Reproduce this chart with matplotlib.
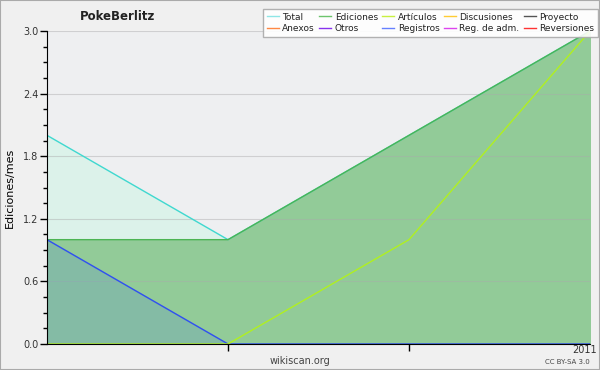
import matplotlib
matplotlib.use("Agg")
import matplotlib.pyplot as plt
import matplotlib.transforms as mtrans
from matplotlib.lines import Line2D
from matplotlib.ticker import MultipleLocator

months = [0, 1, 2, 3]
x_tick_labels = ["", "", "", "2011"]
total = [2, 1, 2, 3]
ediciones = [1, 1, 2, 3]
articulos = [0, 0, 1, 3]
registros = [1, 0, 0, 0]

legend_names = ["Total", "Ediciones", "Artículos", "Discusiones", "Proyecto",
                "Anexos", "Otros", "Registros", "Reg. de adm.", "Reversiones"]
legend_colors = ["#8ee6e6", "#6cc46c", "#c8f040", "#ffcc33", "#555555",
                 "#ff8844", "#8833ee", "#6680ff", "#dd44ee", "#ff3333"]

fig = plt.figure(figsize=(6, 3.7), dpi=100, facecolor="#f0f0f0")
ax = fig.add_axes([47/600, 26/370, 543/600, 313/370])
ax.set_facecolor("#eeeff1")

ax.fill_between(months, total, 0, color="#dcf2ea", zorder=1)
ax.plot(months, total, color="#40d8d0", lw=1, zorder=5)
ax.fill_between(months, ediciones, 0, color="#92cb98", zorder=2)
ax.plot(months, ediciones, color="#4cb454", lw=1, zorder=5)
ax.fill_between(months, registros, 0, color="#6a9fc0", alpha=0.35, zorder=3)
ax.plot(months, registros, color="#3050f0", lw=1, zorder=6)
ax.plot(months, articulos, color="#b0f020", lw=1, zorder=6)

ax.set_xlim(0, 3)
ax.set_ylim(0, 3.0)
ax.yaxis.set_major_locator(MultipleLocator(0.6))
ax.yaxis.set_minor_locator(MultipleLocator(0.15))
ax.yaxis.set_major_formatter(matplotlib.ticker.FormatStrFormatter("%.1f"))
ax.set_xticks(months)
ax.set_xticklabels(x_tick_labels)
ax.grid(axis="y", which="major", color="#aaaaaa", alpha=0.45, lw=0.8, zorder=4)
ax.set_axisbelow(False)
for s in ["top", "right"]:
    ax.spines[s].set_visible(False)
ax.spines["left"].set_zorder(7)
ax.spines["bottom"].set_zorder(7)
ax.tick_params(axis="both", which="major", length=5, width=1, labelsize=7,
               color="black", labelcolor="#333333", pad=1)
ax.tick_params(axis="y", which="minor", length=3, width=1)
ax.tick_params(axis="x", pad=-4)
xt = ax.xaxis.get_major_ticks()
xt[0].tick1line.set_visible(False)
xt[3].tick1line.set_visible(False)
lab = xt[3].label1
lab.set_horizontalalignment("right")
lab.set_transform(lab.get_transform() +
                  mtrans.ScaledTranslation(7/100, 0, fig.dpi_scale_trans))
ax.set_ylabel("Ediciones/mes", fontsize=8, labelpad=6)

fig.text(118/600, 1 - 16/370, "PokeBerlitz", fontsize=8.5, fontweight="bold",
         ha="center", va="center", color="#222222")
fig.text(300/600, 1 - 361/370, "wikiscan.org", fontsize=7, ha="center",
         va="center", color="#444444")
fig.text(590/600, 1 - 362/370, "CC BY-SA 3.0", fontsize=5, ha="right",
         va="center", color="#444444")

handles = [Line2D([0], [0], color=c, lw=1) for c in legend_colors]
order = []
for i in range(5):
    order += [i, i + 5]
leg = fig.legend([handles[i] for i in order], [legend_names[i] for i in order],
                 ncol=5, loc="upper right", bbox_to_anchor=(598/600, 1 - 9/370),
                 fontsize=6.5, frameon=True, fancybox=False, handlelength=1.3,
                 handletextpad=0.4, columnspacing=0.5, labelspacing=0.3,
                 borderpad=0.4, borderaxespad=0)
leg.get_frame().set_edgecolor("#aaaaaa")
leg.get_frame().set_facecolor("white")
leg.get_frame().set_alpha(0.9)
for t in leg.get_texts():
    t.set_color("#222222")

border = plt.Rectangle((0, 0), 1, 1, transform=fig.transFigure, fill=False,
                       edgecolor="#aaaaaa", lw=1.5)
fig.patches.append(border)

fig.savefig("out.png", dpi=100, facecolor=fig.get_facecolor())
